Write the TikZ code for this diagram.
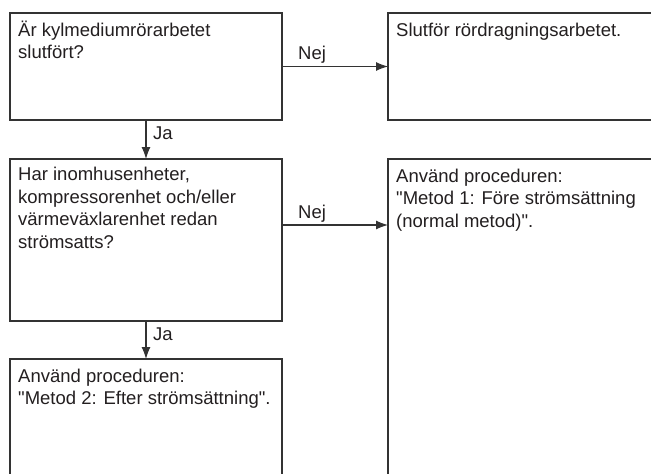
\documentclass[tikz,border=0pt]{standalone}
\usepackage{fontspec}
\setmainfont{Liberation Sans}[Ligatures=TeXOff]
\usetikzlibrary{arrows.meta}
\definecolor{linec}{HTML}{333333}
\definecolor{textc}{HTML}{231F20}
\begin{document}
\begin{tikzpicture}[x=1pt,y=-1pt,
  box/.style={draw=linec, line width=1.1pt, rectangle, anchor=north west, inner sep=0pt, outer sep=0pt, fill=white},
  txt/.style={anchor=base west, inner sep=0pt, text=textc, font=\fontsize{18.5}{22.5}\selectfont},
  lbl/.style={anchor=base west, inner sep=0pt, text=textc, font=\fontsize{18.5}{20}\selectfont},
  arr/.style={draw=linec, line width=1.1pt, -{Latex[length=12pt,width=9pt]}}]
\clip (0,0) rectangle (651,474);
\useasboundingbox (0,0) rectangle (651,474);
\node[box, minimum width=272pt, minimum height=107pt] (b1) at (10,13) {};
\node[box, minimum width=300pt, minimum height=107pt] (b2) at (388,13) {};
\node[box, minimum width=272pt, minimum height=162pt] (b3) at (10,159) {};
\node[box, minimum width=300pt, minimum height=340pt] (b4) at (388,159) {};
\node[box, minimum width=272pt, minimum height=140pt] (b5) at (10,359) {};

\path (b1.north west) ++(8,23) node[txt] (t1) {\parbox[t]{300pt}{\raggedright Är kylmediumrörarbetet\\slutfört?}};
\path (b2.north west) ++(8,23) node[txt] (t2) {\parbox[t]{300pt}{\raggedright Slutför rördragningsarbetet.}};
\path (b3.north west) ++(8,21.5) node[txt] (t3) {\parbox[t]{300pt}{\raggedright Har inomhusenheter,\\kompressorenhet och/eller\\värmeväxlarenhet redan\\strömsatts?}};
\path (b4.north west) ++(8,23) node[txt] (t4) {\parbox[t]{300pt}{\raggedright Använd proceduren:\\"Metod 1: Före strömsättning\\(normal metod)".}};
\path (b5.north west) ++(8,23) node[txt] (t5) {\parbox[t]{300pt}{\raggedright Använd proceduren:\\"Metod 2: Efter strömsättning".}};

\draw[arr] (b1.east) -- (b2.west);
\path (b1.east) ++(16,-7) node[lbl] (nej1) {Nej};
\coordinate (a2s) at ([yshift=15pt]b3.east);
\draw[arr] (a2s) -- (a2s -| b4.west);
\path (a2s) ++(16,-7) node[lbl] (nej2) {Nej};
\draw[arr] (b1.south) -- (b3.north);
\path (b1.south) ++(7,19) node[lbl] (ja1) {Ja};
\draw[arr] (b3.south) -- (b5.north);
\path (b3.south) ++(7,19) node[lbl] (ja2) {Ja};
\end{tikzpicture}
\end{document}
